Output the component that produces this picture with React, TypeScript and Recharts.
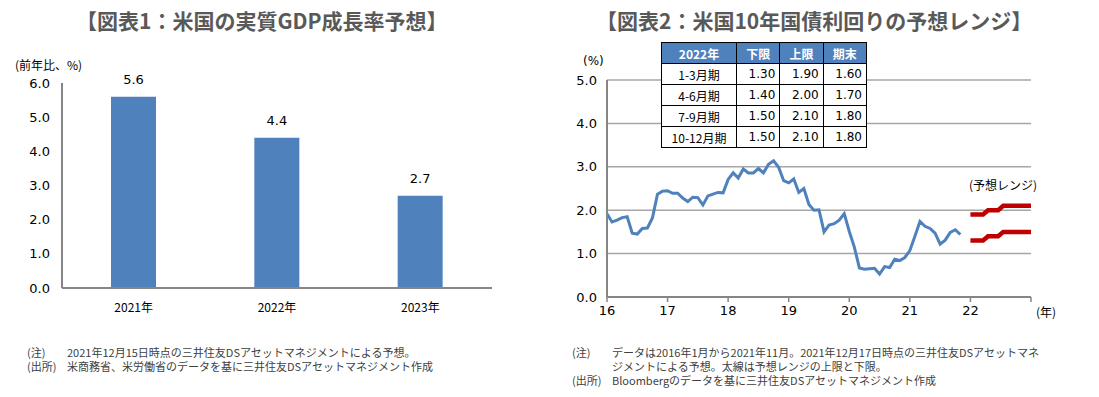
import React from "react";
import {
  BarChart,
  Bar,
  LineChart,
  Line,
  XAxis,
  YAxis,
  CartesianGrid,
  LabelList,
} from "recharts";

// 図表1: 実質GDP成長率予想
const gdpYears = ["2021年", "2022年", "2023年"];
const gdpValues = [5.6, 4.4, 2.7];
const gdpTicks = [0, 1, 2, 3, 4, 5, 6];

// 図表2: 米10年国債利回り (2016年1月〜2021年11月, 月末)
const yieldValues = [
  1.92, 1.73, 1.77, 1.83, 1.85, 1.47, 1.45, 1.58, 1.59, 1.82, 2.37, 2.44,
  2.45, 2.39, 2.39, 2.28, 2.2, 2.3, 2.29, 2.12, 2.33, 2.37, 2.41, 2.4,
  2.71, 2.86, 2.74, 2.95, 2.86, 2.86, 2.96, 2.86, 3.06, 3.14, 2.99, 2.68,
  2.63, 2.72, 2.41, 2.5, 2.13, 2.0, 2.01, 1.5, 1.66, 1.69, 1.77, 1.92,
  1.51, 1.15, 0.67, 0.64, 0.65, 0.66, 0.53, 0.7, 0.68, 0.87, 0.84, 0.91,
  1.07, 1.4, 1.74, 1.63, 1.58, 1.47, 1.22, 1.31, 1.49, 1.55, 1.44,
];
// 予想レンジ (2016年1月からの月数)
const forecastMonths = [72, 74.5, 75.5, 77.5, 78.5, 84];
const forecastUpper = [1.9, 1.9, 2.0, 2.0, 2.1, 2.1];
const forecastLower = [1.3, 1.3, 1.4, 1.4, 1.5, 1.5];
const yieldTicks = [0, 1, 2, 3, 4, 5];
const yearTicks = [0, 12, 24, 36, 48, 60, 72, 84];
const yearLabels = ["16", "17", "18", "19", "20", "21", "22", ""];

// 予想表
const tableHeader = ["2022年", "下限", "上限", "期末"];
const tablePeriods = ["1-3月期", "4-6月期", "7-9月期", "10-12月期"];
const tableLow = [1.3, 1.4, 1.5, 1.5];
const tableHigh = [1.9, 2.0, 2.1, 2.1];
const tableEnd = [1.6, 1.7, 1.8, 1.8];

const gdpData = gdpYears.map((name, i) => ({ name, value: gdpValues[i] }));
const yieldData = yieldValues.map((v, i) => ({ m: i, v }));
const upperData = forecastMonths.map((m, i) => ({ m, v: forecastUpper[i] }));
const lowerData = forecastMonths.map((m, i) => ({ m, v: forecastLower[i] }));

const NUM_FONT = '"DejaVu Sans", "Noto Sans CJK JP", sans-serif';
const JP_FONT = '"Noto Sans CJK JP", sans-serif';
const AXIS = "#868686";

const titleStyle: React.CSSProperties = {
  position: "absolute",
  top: 5,
  fontFamily: JP_FONT,
  fontWeight: 700,
  fontSize: 21,
  color: "#595959",
  whiteSpace: "nowrap",
};

const noteStyle: React.CSSProperties = {
  position: "absolute",
  fontFamily: JP_FONT,
  fontSize: 11,
  color: "#404040",
  whiteSpace: "nowrap",
  lineHeight: "14px",
};

const cell: React.CSSProperties = {
  border: "1px solid #000",
  height: 20,
  padding: "0 4px",
};

export default function App() {
  return (
    <div
      style={{
        position: "absolute",
        left: 0,
        top: 0,
        width: 1099,
        height: 397,
        background: "#fff",
        overflow: "hidden",
      }}
    >
      <div style={{ ...titleStyle, left: 76 }}>【図表1：米国の実質GDP成長率予想】</div>
      <div style={{ ...titleStyle, left: 596 }}>【図表2：米国10年国債利回りの予想レンジ】</div>

      {/* 図表1 */}
      <div style={{ position: "absolute", left: 15, top: 56, fontFamily: JP_FONT, fontSize: 12, color: "#000" }}>
        (前年比、%)
      </div>
      <div style={{ position: "absolute", left: 0, top: 0 }}>
        <BarChart
          width={550}
          height={330}
          data={gdpData}
          margin={{ top: 83, right: 58, bottom: 12, left: 22 }}
        >
          <XAxis
            dataKey="name"
            axisLine={{ stroke: AXIS, strokeWidth: 2 }}
            tickLine={false}
            height={30}
            tickMargin={9}
            tick={{ fontFamily: JP_FONT, fontSize: 12, fill: "#000" }}
          />
          <YAxis
            domain={[0, 6]}
            ticks={gdpTicks}
            width={40}
            tickLine={false}
            tickMargin={6}
            axisLine={{ stroke: AXIS, strokeWidth: 2 }}
            tickFormatter={(v: number) => v.toFixed(1)}
            tick={{ fontFamily: NUM_FONT, fontSize: 13, fill: "#000" }}
          />
          <Bar dataKey="value" fill="#4F81BD" barSize={45} isAnimationActive={false}>
            <LabelList
              dataKey="value"
              position="top"
              offset={13}
              formatter={(v: number) => v.toFixed(1)}
              style={{ fontFamily: NUM_FONT, fontSize: 13, fill: "#000" }}
            />
          </Bar>
        </BarChart>
      </div>

      {/* 図表2 */}
      <div style={{ position: "absolute", left: 583, top: 54, fontFamily: NUM_FONT, fontSize: 12, color: "#000" }}>
        (%)
      </div>
      <div style={{ position: "absolute", left: 550, top: 0 }}>
        <LineChart
          width={549}
          height={330}
          margin={{ top: 80, right: 68, bottom: 8, left: 17 }}
        >
          <CartesianGrid horizontal vertical={false} stroke="#A6A6A6" strokeWidth={1.5} />
          <XAxis
            type="number"
            dataKey="m"
            domain={[0, 84]}
            ticks={yearTicks}
            allowDuplicatedCategory={false}
            height={25}
            tickSize={5}
            tickMargin={4}
            axisLine={{ stroke: AXIS, strokeWidth: 2 }}
            tickLine={{ stroke: AXIS, strokeWidth: 1.5 }}
            tickFormatter={(v: number) => yearLabels[yearTicks.indexOf(v)]}
            tick={{ fontFamily: NUM_FONT, fontSize: 13, fill: "#000" }}
          />
          <YAxis
            domain={[0, 5]}
            ticks={yieldTicks}
            width={40}
            tickLine={false}
            tickMargin={4}
            axisLine={{ stroke: AXIS, strokeWidth: 2 }}
            tickFormatter={(v: number) => v.toFixed(1)}
            tick={{ fontFamily: NUM_FONT, fontSize: 13, fill: "#000" }}
          />
          <Line
            data={yieldData}
            dataKey="v"
            stroke="#4F81BD"
            strokeWidth={3}
            dot={false}
            isAnimationActive={false}
          />
          <Line
            data={upperData}
            dataKey="v"
            stroke="#C00000"
            strokeWidth={4.5}
            dot={false}
            isAnimationActive={false}
          />
          <Line
            data={lowerData}
            dataKey="v"
            stroke="#C00000"
            strokeWidth={4.5}
            dot={false}
            isAnimationActive={false}
          />
        </LineChart>
      </div>
      <div style={{ position: "absolute", left: 969, top: 176, fontFamily: JP_FONT, fontSize: 12, color: "#000" }}>
        (予想レンジ)
      </div>
      <div style={{ position: "absolute", left: 1036, top: 303, fontFamily: JP_FONT, fontSize: 12, color: "#000" }}>
        (年)
      </div>

      <table
        style={{
          position: "absolute",
          left: 661,
          top: 42,
          width: 206,
          borderCollapse: "collapse",
          background: "#fff",
          fontFamily: NUM_FONT,
          fontSize: 12,
          color: "#000",
        }}
      >
        <thead>
          <tr>
            {tableHeader.map((h) => (
              <th
                key={h}
                style={{
                  ...cell,
                  background: "#4F81BD",
                  color: "#fff",
                  fontFamily: JP_FONT,
                  fontWeight: 700,
                  fontSize: 12,
                  textAlign: "center",
                }}
              >
                {h}
              </th>
            ))}
          </tr>
        </thead>
        <tbody>
          {tablePeriods.map((p, i) => (
            <tr key={p}>
              <td style={{ ...cell, textAlign: "center", fontFamily: JP_FONT, width: 66 }}>{p}</td>
              <td style={{ ...cell, textAlign: "right" }}>{tableLow[i].toFixed(2)}</td>
              <td style={{ ...cell, textAlign: "right" }}>{tableHigh[i].toFixed(2)}</td>
              <td style={{ ...cell, textAlign: "right" }}>{tableEnd[i].toFixed(2)}</td>
            </tr>
          ))}
        </tbody>
      </table>

      {/* 注記 */}
      <div style={{ ...noteStyle, left: 27, top: 345 }}>
        (注)
        <br />
        (出所)
      </div>
      <div style={{ ...noteStyle, left: 67, top: 345 }}>
        2021年12月15日時点の三井住友DSアセットマネジメントによる予想。
        <br />
        米商務省、米労働省のデータを基に三井住友DSアセットマネジメント作成
      </div>
      <div style={{ ...noteStyle, left: 572, top: 345 }}>
        (注)
        <br />
        <br />
        (出所)
      </div>
      <div style={{ ...noteStyle, left: 612, top: 345 }}>
        データは2016年1月から2021年11月。2021年12月17日時点の三井住友DSアセットマネ
        <br />
        ジメントによる予想。太線は予想レンジの上限と下限。
        <br />
        Bloombergのデータを基に三井住友DSアセットマネジメント作成
      </div>
    </div>
  );
}
